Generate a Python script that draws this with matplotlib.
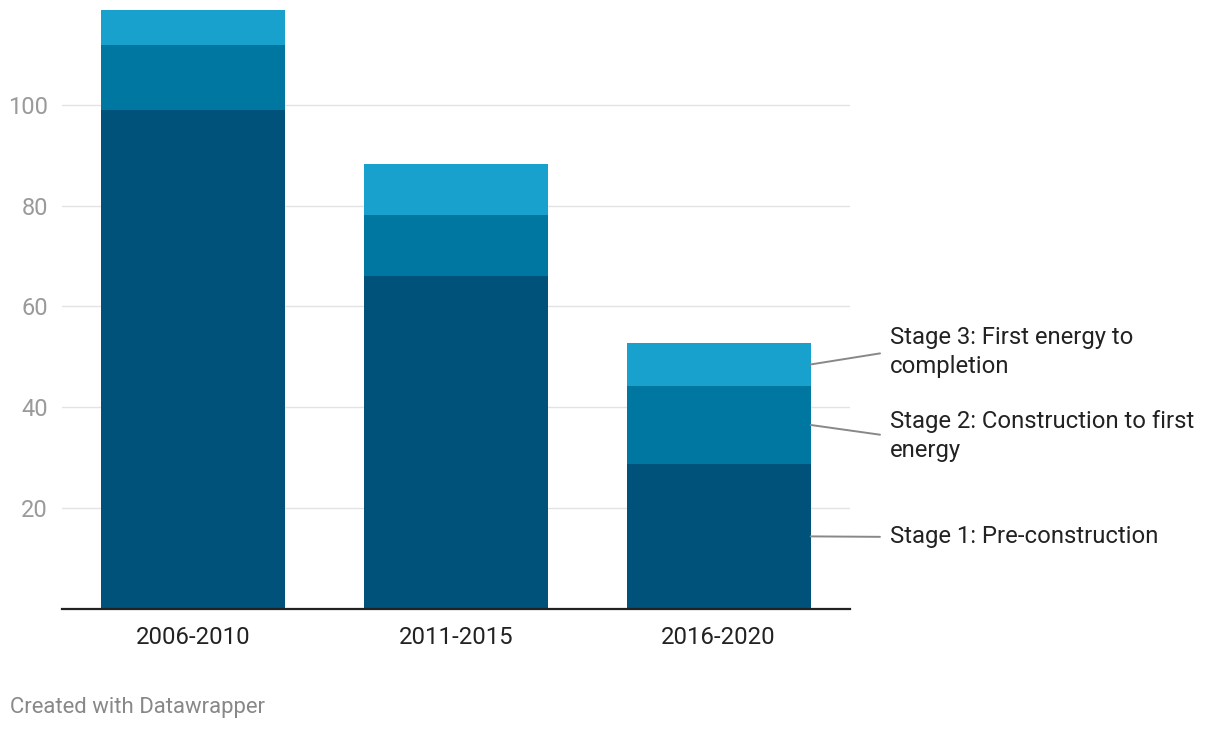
import matplotlib
matplotlib.use("Agg")
import matplotlib.pyplot as plt
import numpy as np

plt.rcParams['font.family'] = ['Roboto', 'DejaVu Sans']

periods = ['2006-2010', '2011-2015', '2016-2020']
stage1 = [99.0, 66.1, 28.8]
stage2 = [12.9, 12.1, 15.4]
stage3 = [6.9, 10.1, 8.6]
stage_names = ['Stage 1: Pre-construction',
               'Stage 2: Construction to first\nenergy',
               'Stage 3: First energy to\ncompletion']
colors = ['#00527a', '#0077a1', '#18a1cd']

fig = plt.figure(figsize=(12.2, 7.3), dpi=100)
ax = fig.add_axes([62/1220, 1-609/730, 788/1220, 599/730])

x = np.arange(len(periods))
bottom = np.zeros(len(periods))
series = [stage1, stage2, stage3]
for vals, c in zip(series, colors):
    ax.bar(x, vals, bottom=bottom, width=0.7, color=c, zorder=2)
    bottom += np.array(vals)

ax.set_xlim(-0.5, 2.5)
ax.set_ylim(0, bottom.max())
ax.set_yticks([20, 40, 60, 80, 100])
ax.yaxis.grid(True, color='#e3e3e3', linewidth=1, zorder=0)
ax.set_xticks(x)
ax.set_xticklabels(periods, fontsize=17.2, color='#222222')
ax.tick_params(axis='y', length=0, labelsize=17, labelcolor='#9a9a9a', pad=10)
ax.tick_params(axis='x', length=0, pad=12)
for s in ['top', 'right', 'left']:
    ax.spines[s].set_visible(False)
ax.spines['bottom'].set_color('#222222')
ax.spines['bottom'].set_linewidth(1.6)
ax.spines['bottom'].set_zorder(3)

# labels to the right of the last bar
last = len(periods) - 1
label_y = [14.3, 34.3, 51.0]
cum = 0
for vals, name, ly in zip(series, stage_names, label_y):
    mid = cum + vals[last] / 2
    cum += vals[last]
    ax.annotate(name, xy=(last + 0.35, mid), xytext=(last + 0.651, ly),
                fontsize=17.2, color='#222222', va='center', ha='left',
                annotation_clip=False, linespacing=1.32,
                arrowprops=dict(arrowstyle='-', color='#888888', lw=1.4,
                                shrinkA=5, shrinkB=0, relpos=(0, 0.5)))

fig.text(10/1220, 1-707/730, 'Created with Datawrapper', fontsize=15.9,
         color='#888888', va='center', ha='left')

fig.savefig('out.png', dpi=100)
